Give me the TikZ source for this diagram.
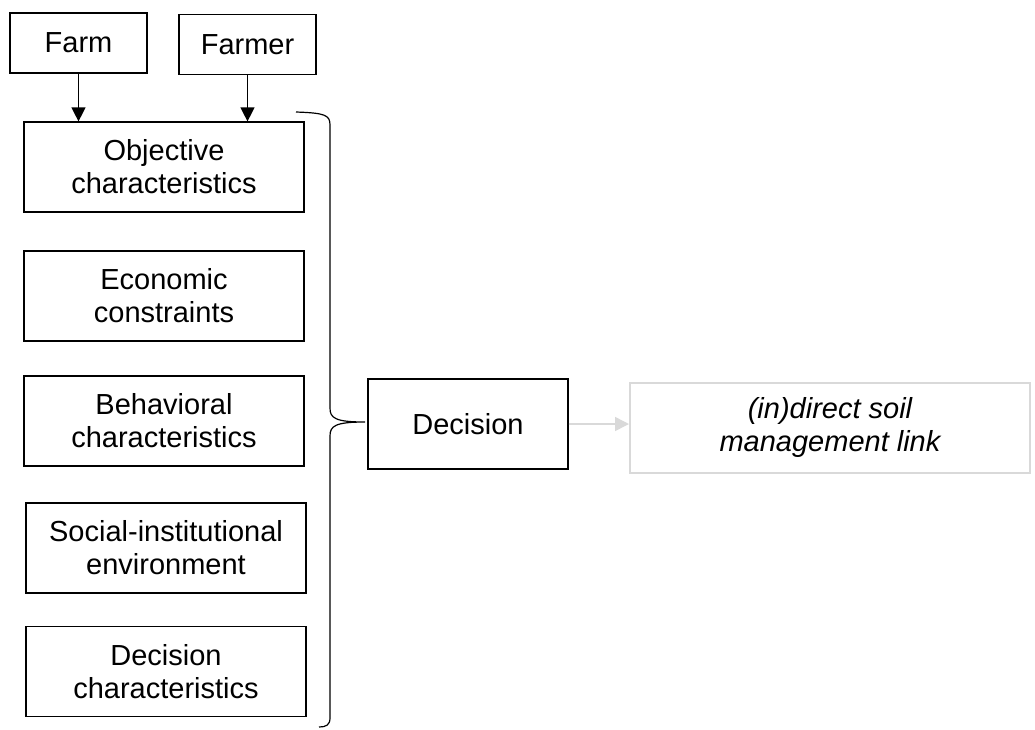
\documentclass[tikz,border=0pt]{standalone}
\usepackage{fontspec}
\setmainfont{Liberation Sans}
\usetikzlibrary{arrows.meta}

\begin{document}
\begin{tikzpicture}[x=1pt, y=-1pt, >={Triangle[width=14pt,length=14pt]},
  factor/.style={draw, line width=1.2pt, minimum width=280pt, minimum height=90pt,
    align=center, inner sep=0pt, font=\fontsize{29}{33}\selectfont},
  source/.style={factor, minimum width=137pt, minimum height=60pt},
  outcome/.style={factor, draw=black!15, line width=2pt, minimum width=400pt,
    font=\fontsize{29}{33}\selectfont\itshape}]
\useasboundingbox (0,0) rectangle (1035,729);

% Sources
\node[source] (farm) at (78.5,43) {Farm};
\node[source] (farmer) at (247.5,44.5) {Farmer};

% Factors
\node[factor] (objective) at (164,167) {Objective\\characteristics};
\node[factor] (economic) at (164,296) {Economic\\constraints};
\node[factor] (behavioral) at (164,421) {Behavioral\\characteristics};
\node[factor] (social) at (166,548) {Social-institutional\\environment};
\node[factor] (decchar) at (166,671.5) {Decision\\characteristics};

% Arrows into objective characteristics
\draw[->, line width=1.2pt] (farm.south) -- (farm.south |- objective.north);
\draw[->, line width=1.2pt] (farmer.south) -- (farmer.south |- objective.north);

% Brace
\draw[line width=1.2pt] (296,112) .. controls (325,113) and (330,115) .. (330,125)
  -- (330,408) .. controls (330,418) and (335,422) .. (365,422)
  .. controls (335,422) and (330,426) .. (330,436)
  -- (330,718) .. controls (330,725) and (326,727) .. (319,727);

% Decision and link
\node[factor, minimum width=200pt] (decision) at (468,424) {Decision};
\node[outcome] (link) at (830,427.5) {(in)direct soil\\management link};
\draw[->, draw=black!15, fill=black!15, line width=1.5pt] (decision.east) -- (decision.east -| link.west);
\end{tikzpicture}
\end{document}
